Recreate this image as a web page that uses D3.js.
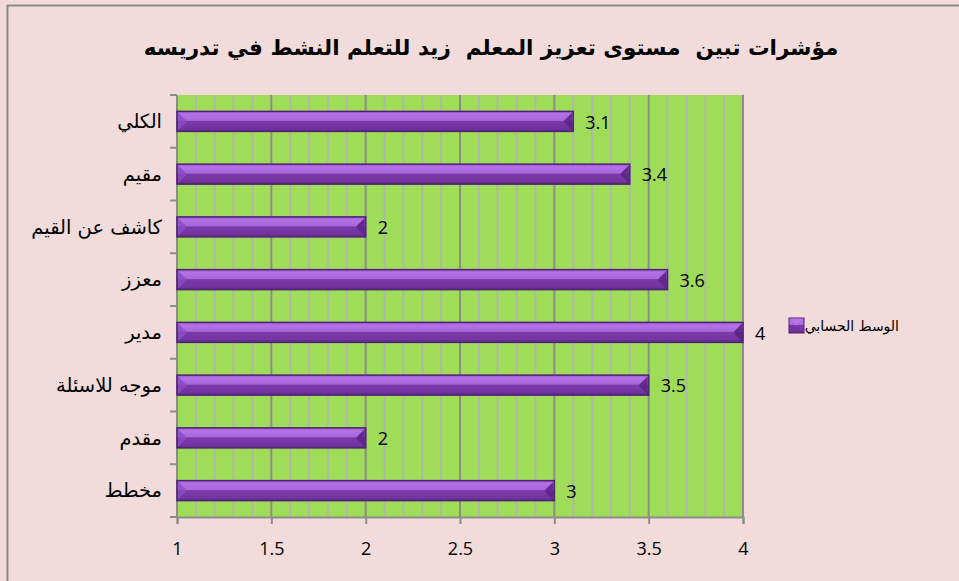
<!DOCTYPE html>
<html>
<head>
<meta charset="utf-8">
<script src="https://cdn.jsdelivr.net/npm/d3@7"></script>
<style>
  html, body { margin: 0; padding: 0; background: #f2dcdb; }
  svg { display: block; }
  text { white-space: pre; }
</style>
</head>
<body>
<svg id="chart" width="959" height="581"></svg>
<script>
// Indicator names, top to bottom
const categories = ["الكلي", "مقيم", "كاشف عن القيم", "معزز", "مدير", "موجه للاسئلة", "مقدم", "مخطط"];
// Arithmetic mean for each indicator
const means = [3.1, 3.4, 2, 3.6, 4, 3.5, 2, 3];
const xTicks = [1, 1.5, 2, 2.5, 3, 3.5, 4];
const titleText = "مؤشرات تبين  مستوى تعزيز المعلم  زيد للتعلم النشط في تدريسه";
const legendText = "الوسط الحسابي";

const svg = d3.select("#chart");
const W = 959, H = 581;
const plot = { left: 177, right: 743, top: 95, bottom: 517 };

// outer frame
svg.append("rect").attr("x", 7.5).attr("y", 5.5).attr("width", W).attr("height", H)
  .attr("fill", "#f2dcdb").attr("stroke", "#8a8a8a").attr("stroke-width", 2);

const x = d3.scaleLinear().domain([1, 4]).range([plot.left, plot.right]);
const yBand = d3.scaleBand().domain(categories).range([plot.top, plot.bottom]);

const defs = svg.append("defs");
const grad = defs.append("linearGradient").attr("id", "barFill").attr("x1", 0).attr("y1", 0).attr("x2", 0).attr("y2", 1);
grad.append("stop").attr("offset", "0%").attr("stop-color", "#9a5cd0");
grad.append("stop").attr("offset", "15%").attr("stop-color", "#b572e6");
grad.append("stop").attr("offset", "45%").attr("stop-color", "#a866dc");
grad.append("stop").attr("offset", "50%").attr("stop-color", "#7a3aa8");
grad.append("stop").attr("offset", "85%").attr("stop-color", "#7334a2");
grad.append("stop").attr("offset", "100%").attr("stop-color", "#5e2888");

// plot background
svg.append("rect").attr("x", plot.left).attr("y", plot.top)
  .attr("width", plot.right - plot.left).attr("height", plot.bottom - plot.top)
  .attr("fill", "#9fdc58");

// minor grid every 0.1
const minor = d3.range(11, 40).map(v => v / 10).filter(v => Math.abs(v * 2 - Math.round(v * 2)) > 1e-6);
svg.append("g").selectAll("line").data(minor).join("line")
  .attr("x1", d => x(d)).attr("x2", d => x(d))
  .attr("y1", plot.top).attr("y2", plot.bottom)
  .attr("stroke", "#b3b3b3").attr("stroke-width", 2).attr("stroke-opacity", 0.85);

// major grid
svg.append("g").selectAll("line").data(xTicks.slice(1)).join("line")
  .attr("x1", d => x(d)).attr("x2", d => x(d))
  .attr("y1", plot.top).attr("y2", plot.bottom)
  .attr("stroke", "#8c8c8c").attr("stroke-width", 2);

// x axis
const xAxis = svg.append("g").attr("transform", `translate(0,${plot.bottom})`)
  .call(d3.axisBottom(x).tickValues(xTicks).tickFormat(d3.format("")).tickSize(7).tickPadding(18));
xAxis.select(".domain").attr("stroke", "#8c8c8c").attr("stroke-width", 2);
xAxis.selectAll(".tick line").attr("stroke", "#8c8c8c").attr("stroke-width", 2);
xAxis.selectAll("text").attr("font-family", "Open Sans, Liberation Sans, sans-serif")
  .attr("font-size", 18).attr("fill", "#000");

// y axis with ticks at band boundaries
const yAxisG = svg.append("g").attr("transform", `translate(${plot.left},0)`);
yAxisG.append("line").attr("x1", 0).attr("x2", 0).attr("y1", plot.top).attr("y2", plot.bottom)
  .attr("stroke", "#8c8c8c").attr("stroke-width", 2);
const bounds = categories.map(c => yBand(c)).concat([plot.bottom]);
yAxisG.selectAll(".yt").data(bounds).join("line").attr("class", "yt")
  .attr("x1", -7).attr("x2", 0).attr("y1", d => d).attr("y2", d => d)
  .attr("stroke", "#8c8c8c").attr("stroke-width", 2);
svg.append("g").selectAll("text").data(categories).join("text")
  .attr("x", 162).attr("y", d => yBand(d) + yBand.bandwidth() / 2)
  .attr("dy", "0.35em").attr("text-anchor", "end")
  .attr("font-family", "DejaVu Sans, sans-serif").attr("font-size", 19.5)
  .attr("fill", "#000").text(d => d);

// bars with bevelled ends
const bars = svg.append("g");
const data = categories.map((c, i) => ({ c, v: means[i] }));
const bh = 20;
data.forEach(d => {
  const x0 = x(1), x1 = x(d.v);
  const yc = yBand(d.c) + yBand.bandwidth() / 2;
  const y0 = yc - bh / 2, y1 = yc + bh / 2;
  const g = bars.append("g");
  g.append("rect").attr("x", x0).attr("y", y0).attr("width", x1 - x0).attr("height", bh)
    .attr("fill", "url(#barFill)").attr("stroke", "#4f2273").attr("stroke-width", 1.5);
  // left bevel
  g.append("path").attr("d", `M${x0 + 1},${y0 + 1} L${x0 + 9},${y0 + 9} L${x0 + 9},${y1 - 9} L${x0 + 1},${y1 - 1} Z`)
    .attr("fill", "#8a4cc0").attr("opacity", 0.8);
  // right bevel
  g.append("path").attr("d", `M${x1 - 1},${y0 + 1} L${x1 - 9},${y0 + 9} L${x1 - 9},${y1 - 9} L${x1 - 1},${y1 - 1} Z`)
    .attr("fill", "#5c2686").attr("opacity", 0.9);
  // value label
  svg.append("text").attr("x", x1 + 12).attr("y", yc + 1).attr("dy", "0.35em")
    .attr("font-family", "Open Sans, Liberation Sans, sans-serif").attr("font-size", 18)
    .attr("fill", "#000").text(d.v);
});

// legend
const lg = svg.append("g");
lg.append("rect").attr("x", 789).attr("y", 318).attr("width", 15).attr("height", 15)
  .attr("fill", "url(#barFill)").attr("stroke", "#4f2273").attr("stroke-width", 1);
lg.append("path").attr("d", "M789.5,318.5 L796.5,325.5 L803.5,318.5 Z").attr("fill", "#b878ea").attr("opacity", 0.8);
lg.append("text").attr("x", 899).attr("y", 326).attr("dy", "0.35em")
  .attr("text-anchor", "end")
  .attr("font-family", "DejaVu Sans, sans-serif").attr("font-size", 14)
  .attr("fill", "#000").text(legendText);

// title
svg.append("text").attr("x", 491).attr("y", 47).attr("dy", "0.35em")
  .attr("text-anchor", "middle")
  .attr("font-family", "DejaVu Sans, sans-serif").attr("font-weight", "bold")
  .attr("font-size", 21.5).attr("fill", "#000").text(titleText);
</script>
</body>
</html>
